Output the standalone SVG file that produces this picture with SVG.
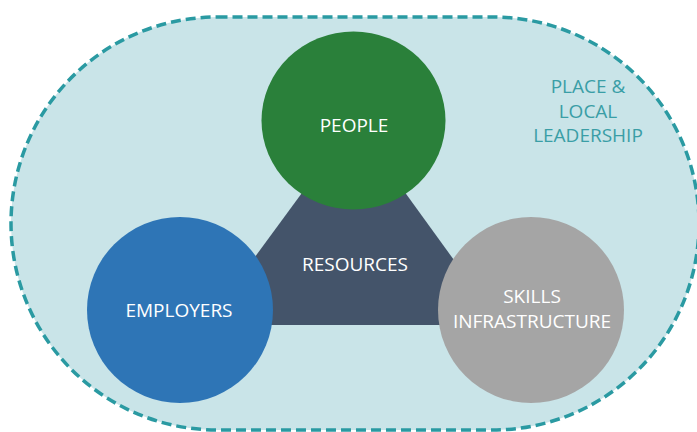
<svg xmlns="http://www.w3.org/2000/svg" width="697" height="432" viewBox="0 0 697 432">
<style>
.lbl{font-family:"Open Sans","Noto Sans","DejaVu Sans",sans-serif;font-size:19px;fill:#ffffff;text-anchor:middle}
.place{font-family:"Open Sans","Noto Sans","DejaVu Sans",sans-serif;font-size:19px;fill:#3a9ea6;text-anchor:middle}
</style>
<rect width="697" height="432" fill="#ffffff"/>
<g id="place">
<rect x="11" y="17" width="688" height="413" rx="206.5" ry="206.5" fill="#c9e4e8" stroke="#2a9aa2" stroke-width="3.5" stroke-dasharray="10 5"/>
<text class="place" x="588" y="93">PLACE &amp;</text>
<text class="place" x="588" y="118">LOCAL</text>
<text class="place" x="588" y="142">LEADERSHIP</text>
</g>
<g id="connectors"></g>
<g id="resources">
<polygon points="354,122 205,325 501,325" fill="#44546a"/>
<text class="lbl" x="355" y="271">RESOURCES</text>
</g>
<g id="people">
<ellipse cx="353.5" cy="120.5" rx="92" ry="89" fill="#2a803a"/>
<text class="lbl" x="354" y="132">PEOPLE</text>
</g>
<g id="employers">
<circle cx="180" cy="310" r="93" fill="#2e75b6"/>
<text class="lbl" x="179" y="317">EMPLOYERS</text>
</g>
<g id="skills">
<circle cx="531" cy="310" r="93" fill="#a5a5a5"/>
<text class="lbl" x="532" y="303">SKILLS</text>
<text class="lbl" x="532" y="328">INFRASTRUCTURE</text>
</g>
</svg>
